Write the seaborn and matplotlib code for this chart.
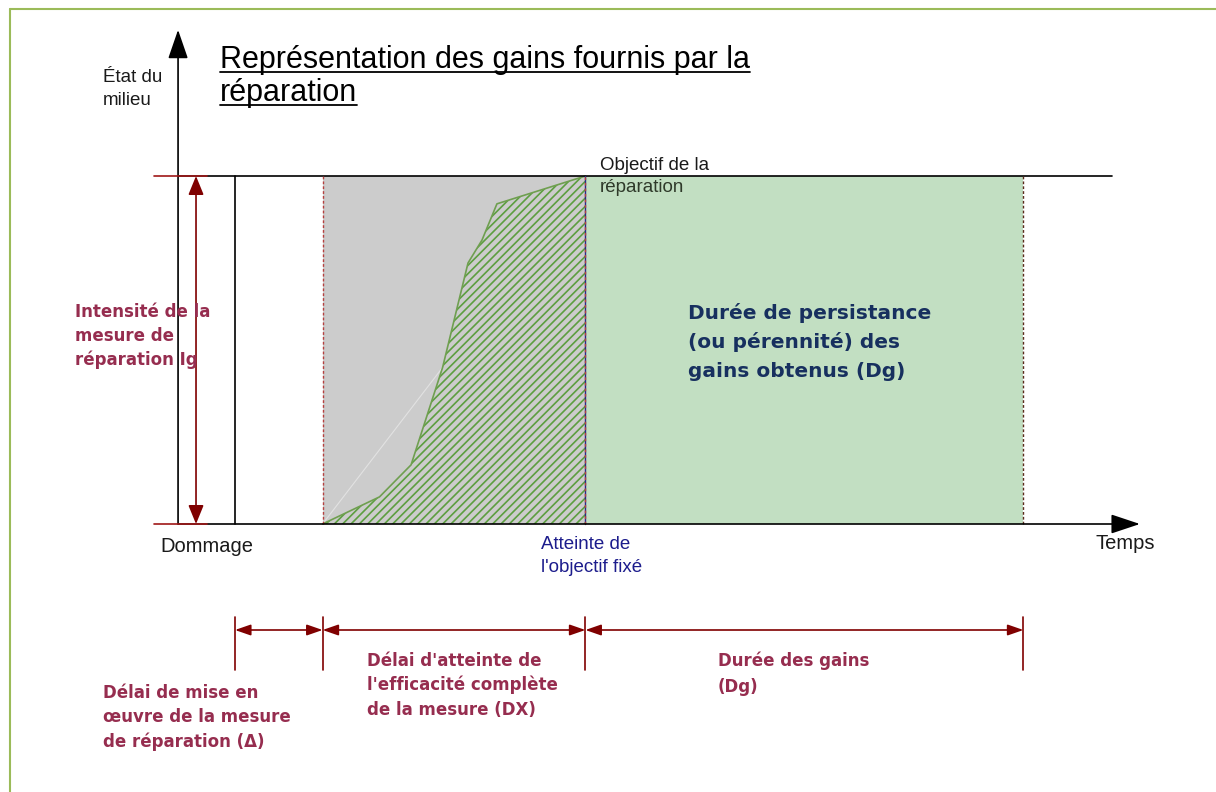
import matplotlib
matplotlib.use("Agg")
import matplotlib.pyplot as plt
import seaborn as sns
from matplotlib.lines import Line2D
from matplotlib.transforms import IdentityTransform

# time axis in units of the implementation delay (Δ = 1), damage at t = 0
event_times = [0, 1, 4, 9]          # damage, start of measure, objective reached, end of gains
objective = 1.0                     # state of the environment once repaired

# recovery curve between start of measure and reaching the objective
curve_t = [1.0, 1.65, 2.01, 2.37, 2.66, 2.82, 2.99, 4.0]
curve_s = [0.0, 0.078, 0.17, 0.45, 0.75, 0.816, 0.92, 1.0]

span_labels = [
    ["Délai de mise en", "œuvre de la mesure", "de réparation (Δ)"],
    ["Délai d'atteinte de", "l'efficacité complète", "de la mesure (DX)"],
    ["Durée des gains", "(Dg)"],
]

W, H = 1216, 792
T0, TU = 235, 87.6      # pixel of t=0, pixels per time unit
S0, SU = 524, 348       # pixel of s=0, pixels per state unit

sns.set_theme(style="white")
plt.rcParams["font.family"] = ["Liberation Sans", "DejaVu Sans"]
plt.rcParams["hatch.color"] = "#5c9e40"
plt.rcParams["hatch.linewidth"] = 1.2

fig = plt.figure(figsize=(W / 100, H / 100), dpi=100)
ax = fig.add_axes([0, 0, 1, 1])
ax.set_xlim(-T0 / TU, (W - T0) / TU)
ax.set_ylim((S0 - H) / SU, S0 / SU)
ax.axis("off")

t_dmg, t_start, t_goal, t_end = event_times
dark_red = "#800000"

# filled areas
ax.fill_between([t_start, t_goal], 0, objective, color="#cccccc", lw=0, zorder=1)
ax.fill_between([t_goal, t_end], 0, objective, color="#c2dfc2", lw=0, zorder=1)
ax.plot([t_start, 2.37], [0, 0.45], color="#e2e2e2", lw=0.8, zorder=1.5)
ax.fill_between(curve_t, 0, curve_s, facecolor="none", edgecolor="#5c9e40",
                hatch="////", lw=0, zorder=2)
sns.lineplot(x=curve_t, y=curve_s, color="#6f9f50", lw=1.2, ax=ax, zorder=3,
             sort=False, legend=False)

# axes of the diagram
y_axis_t = -0.65
ax.annotate("", xy=(y_axis_t, 1.42), xytext=(y_axis_t, 0),
            arrowprops=dict(arrowstyle="-|>,head_length=0.9,head_width=0.31",
                            mutation_scale=20, color="black", lw=1.2,
                            shrinkA=0, shrinkB=0), zorder=5)
ax.annotate("", xy=(10.33, 0), xytext=(y_axis_t, 0),
            arrowprops=dict(arrowstyle="-|>,head_length=0.9,head_width=0.3",
                            mutation_scale=20, color="black", lw=1.2,
                            shrinkA=0, shrinkB=0), zorder=5)
ax.plot([y_axis_t, 10.01], [objective, objective], color="black", lw=1.2, zorder=4)

# vertical markers
ax.plot([t_dmg, t_dmg], [0, objective], color="black", lw=1.2, zorder=4)
ax.plot([t_start, t_start], [0, objective], color="#b5403f", lw=1,
        ls=(0, (2, 1.5)), zorder=4)
ax.plot([t_goal, t_goal], [0, objective], color="#2a2a8a", lw=1, zorder=4)
ax.plot([t_goal, t_goal], [0, objective], color="#b5403f", lw=1,
        ls=(0, (2, 2)), zorder=4)
ax.plot([t_end, t_end], [0, objective], color="#5a2a1a", lw=1,
        ls=(0, (2, 1.5)), zorder=4)

# intensity arrow
for lvl in [0, objective]:
    ax.plot([-0.93, -0.32], [lvl, lvl], color="#a01818", lw=1.2, zorder=5)
ax.annotate("", xy=(-0.445, objective), xytext=(-0.445, 0),
            arrowprops=dict(arrowstyle="<|-|>,head_length=1.15,head_width=0.47",
                            mutation_scale=10, color=dark_red, lw=1.2,
                            shrinkA=0, shrinkB=0), zorder=6)

# duration dimension lines
dim_y = (S0 - 630) / SU
for t in event_times:
    ax.plot([t, t], [(S0 - 617) / SU, (S0 - 670) / SU], color=dark_red, lw=1.2)
for a, b in zip(event_times[:-1], event_times[1:]):
    ax.annotate("", xy=(b, dim_y), xytext=(a, dim_y),
                arrowprops=dict(arrowstyle="<|-|>,head_length=0.95,head_width=0.33",
                                mutation_scale=10, color=dark_red, lw=1.2,
                                shrinkA=0, shrinkB=0))


def put(lines, x, y0, dy, **kw):
    out = []
    for i, line in enumerate(lines):
        out.append(fig.text(x / W, 1 - (y0 + i * dy) / H, line,
                            ha="left", va="baseline", **kw))
    return out


txt = "#1a1a1a"
crimson = "#962d4f"
bold = dict(family="DejaVu Sans", fontweight="bold", color=crimson, fontsize=12)

titles = put(["Représentation des gains fournis par la", "réparation"],
             220, 68, 33, fontsize=22, color="black")
put(["État du", "milieu"], 103, 82, 23, fontsize=13.5, color=txt)
put(["Objectif de la"], 600, 170, 22, fontsize=13.5, color=txt)
put(["réparation"], 600, 192, 22, fontsize=13.5, color="#2f3a2a")
put(["Dommage"], 160, 552, 22, fontsize=14.5, color=txt)
put(["Temps"], 1096, 549, 22, fontsize=14.5, color=txt)
put(["Atteinte de", "l'objectif fixé"], 541, 549, 23, fontsize=13.5, color="#1c1c8c")
put(["Intensité de la", "mesure de", "réparation Ig"], 75, 317, 24, **bold)
put(["Durée de persistance", "(ou pérennité) des", "gains obtenus (Dg)"], 688, 319, 29,
    family="DejaVu Sans", fontweight="bold", color="#17305f", fontsize=14.5)
put(span_labels[0], 103, 698, 24.5, **bold)
put(span_labels[1], 367, 666, 24.5, **bold)
put(span_labels[2], 718, 666, 26, **bold)

# underline the title
renderer = fig.canvas.get_renderer()
for t in titles:
    bb = t.get_window_extent(renderer)
    base = t.get_position()[1] * H - 4
    fig.add_artist(Line2D([bb.x0, bb.x1], [base, base], color="black", lw=1.3,
                          transform=IdentityTransform()))

# page frame (top and left edges)
fig.add_artist(Line2D([10 / W, 1], [1 - 9 / H, 1 - 9 / H], color="#9bbb59", lw=1.5,
                      transform=fig.transFigure))
fig.add_artist(Line2D([10 / W, 10 / W], [0, 1 - 9 / H], color="#9bbb59", lw=1.5,
                      transform=fig.transFigure))

fig.savefig("out.png", dpi=100)
